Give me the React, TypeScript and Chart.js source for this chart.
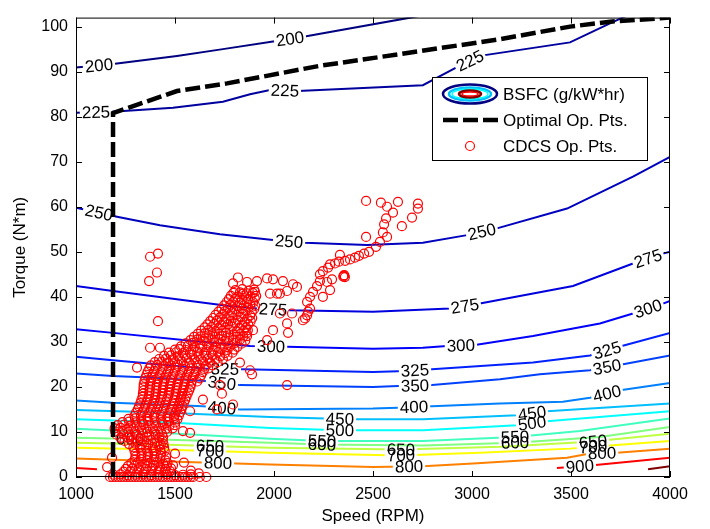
import React, { useEffect, useRef } from 'react';
import { Chart, registerables } from 'chart.js';

Chart.register(...registerables);

const FONT = '"Liberation Sans", Arial, Helvetica, sans-serif';

// ---- axis ticks ----
const speedTicks = [1000, 1500, 2000, 2500, 3000, 3500, 4000];
const torqueTicks = [0, 10, 20, 30, 40, 50, 60, 70, 80, 90, 100];

// ---- BSFC contour lines: [speed (RPM), torque (N*m)] ----
const bsfc200 = [[1000, 90.9], [1187, 91.7], [1510, 93.5], [1742, 95.0], [1995, 96.7], [2156, 97.8], [2700, 102.1], [2760, 102.6]];
const bsfc225 = [[1000, 80.9], [1182, 81.1], [1490, 82.0], [1742, 83.3], [1879, 85.0], [1980, 85.9], [2121, 85.7], [2752, 87.0], [2929, 91.1], [3040, 93.5], [3495, 96.5], [3697, 100.7], [3800, 102.8]];
const bsfc250 = [[1000, 59.8], [1207, 57.8], [1424, 55.9], [1727, 53.9], [1995, 52.6], [2156, 52.0], [2470, 51.5], [2752, 52.0], [2975, 53.7], [3126, 55.2], [3480, 59.6], [3813, 66.7], [4000, 71.1]];
const bsfc275 = [[1000, 42.4], [1187, 41.3], [1763, 38.0], [1914, 37.4], [2081, 37.0], [2500, 36.7], [2889, 37.4], [3040, 38.5], [3510, 42.4], [3813, 47.4], [3965, 49.6], [4000, 50.0]];
const bsfc300 = [[1000, 32.8], [1187, 32.0], [1591, 30.2], [1879, 29.1], [2066, 28.9], [2500, 28.5], [2752, 28.7], [2874, 29.1], [3015, 29.3], [3308, 31.3], [3646, 34.1], [3813, 36.3], [3965, 38.5], [4000, 39.1]];
const bsfc325 = [[1000, 26.7], [1187, 25.9], [1424, 25.0], [1651, 24.1], [1843, 23.9], [2500, 23.3], [2626, 23.5], [2798, 23.9], [3308, 25.4], [3596, 27.0], [3757, 29.1], [4000, 32.0]];
const bsfc350 = [[1000, 23.0], [1187, 22.4], [1424, 22.0], [1651, 21.3], [1828, 20.4], [2500, 20.0], [2626, 20.2], [2798, 20.4], [3141, 21.7], [3343, 22.8], [3596, 23.7], [3757, 25.0], [4000, 27.0]];
const bsfc400 = [[1000, 17.0], [1187, 16.5], [1424, 16.1], [1641, 15.7], [1828, 15.0], [2500, 15.2], [2626, 15.4], [2798, 15.7], [3141, 16.3], [3459, 16.7], [3596, 17.6], [3757, 19.3], [4000, 20.9]];
const bsfc450 = [[1000, 14.9], [1424, 14.3], [1980, 13.3], [2258, 13.0], [2409, 12.8], [2753, 12.8], [3227, 13.7], [3379, 14.6], [4000, 16.3]];
const bsfc500 = [[1000, 12.8], [1424, 12.2], [1980, 10.9], [2333, 10.4], [2753, 10.4], [3227, 11.5], [3379, 12.4], [4000, 14.6]];
const bsfc550 = [[1000, 10.7], [1424, 9.8], [1980, 8.5], [2242, 8.0], [2753, 8.0], [3217, 8.9], [3545, 10.2], [4000, 13.0]];
const bsfc600 = [[1000, 8.7], [1424, 8.3], [1980, 7.6], [2242, 7.2], [2753, 7.0], [3217, 7.6], [3646, 8.9], [4000, 11.1]];
const bsfc650 = [[1000, 7.6], [1424, 7.2], [1980, 6.5], [2641, 6.1], [3146, 6.7], [3596, 7.8], [4000, 9.6]];
const bsfc700 = [[1000, 6.5], [1424, 6.1], [1980, 5.4], [2636, 4.8], [3040, 5.4], [3495, 6.3], [3697, 7.0], [4000, 8.0]];
const bsfc800 = [[1000, 4.1], [1424, 3.5], [1980, 2.8], [2500, 2.2], [2753, 2.4], [3005, 3.0], [3480, 4.3], [3596, 5.2], [3732, 5.4], [4000, 6.3]];
const bsfc900a = [[1000, 2.0], [1106, 1.7]];
const bsfc900b = [[3429, 2.0], [3611, 2.6], [4000, 4.3]];
const bsfc1000 = [[3889, 1.7], [4000, 2.4]];

// ---- contour label positions (speed, RPM) ----
const lab200 = [1116, 2081];
const lab225 = [1101, 2055, 2990];
const lab250 = [1116, 2076, 3050];
const lab275 = [1995, 2964, 3889];
const lab300 = [1985, 2944, 3889];
const lab325 = [1752, 2712, 3682];
const lab350 = [1737, 2712, 3682];
const lab400 = [1737, 2707, 3682];
const lab450 = [2333, 3303];
const lab500 = [2333, 3303];
const lab550 = [2242, 3217];
const lab600 = [1273, 2242, 3217];
const lab650 = [1677, 2641, 3611];
const lab700 = [1677, 2641, 3611];
const lab800 = [1717, 2682, 3657];
const lab900 = [3545];

// ---- optimal operating points ----
const optSpeed = [1187, 1187, 1510, 1763, 2232, 2636, 3141, 3495, 3697, 4000];
const optTorque = [0, 80.8, 85.7, 87.4, 91.3, 93.9, 97.2, 100.0, 101.1, 102.0];

// ---- CDCS operating points [speed, torque] ----
const cdcsPoints = [
  [1805, 41.5], [1840, 41.7], [1872, 41.4], [1900, 41.6],
  [1782, 40.2], [1815, 40.0], [1850, 40.3], [1882, 40.1], [1910, 40.2],
  [1760, 38.8], [1795, 38.9], [1828, 38.7], [1862, 38.9], [1895, 38.8],
  [1735, 37.4], [1768, 37.5], [1802, 37.3], [1838, 37.4], [1870, 37.6], [1900, 37.3],
  [1705, 36.0], [1740, 36.1], [1775, 35.9], [1810, 36.0], [1845, 36.2], [1880, 35.9],
  [1678, 34.6], [1712, 34.7], [1748, 34.5], [1782, 34.6], [1818, 34.8], [1852, 34.5], [1882, 34.6],
  [1650, 33.2], [1685, 33.3], [1720, 33.1], [1755, 33.2], [1790, 33.4], [1825, 33.1], [1860, 33.2],
  [1615, 31.8], [1650, 31.9], [1688, 31.7], [1722, 31.8], [1758, 32.0], [1795, 31.7], [1830, 31.8], [1862, 31.9],
  [1578, 30.4], [1612, 30.5], [1648, 30.3], [1685, 30.4], [1720, 30.6], [1755, 30.3], [1792, 30.4], [1828, 30.5], [1855, 30.3],
  [1530, 29.0], [1565, 29.1], [1600, 28.9], [1638, 29.0], [1672, 29.2], [1708, 28.9], [1745, 29.0], [1780, 29.1], [1815, 28.9],
  [1470, 27.6], [1505, 27.7], [1540, 27.5], [1575, 27.6], [1612, 27.8], [1648, 27.5], [1682, 27.6], [1718, 27.7], [1752, 27.5], [1790, 27.6],
  [1420, 26.2], [1455, 26.3], [1490, 26.1], [1525, 26.2], [1560, 26.4], [1598, 26.1], [1632, 26.2], [1668, 26.3], [1705, 26.1], [1742, 26.2],
  [1378, 24.8], [1410, 24.9], [1445, 24.7], [1480, 24.8], [1515, 25.0], [1550, 24.7], [1585, 24.8], [1620, 24.9], [1655, 24.7], [1690, 24.8],
  [1362, 23.4], [1395, 23.5], [1430, 23.3], [1465, 23.4], [1500, 23.6], [1535, 23.3], [1570, 23.4], [1605, 23.5], [1640, 23.3],
  [1350, 22.0], [1382, 22.1], [1415, 21.9], [1450, 22.0], [1485, 22.2], [1520, 21.9], [1555, 22.0], [1590, 22.1], [1625, 21.9],
  [1342, 20.6], [1375, 20.7], [1408, 20.5], [1442, 20.6], [1478, 20.8], [1512, 20.5], [1548, 20.6], [1582, 20.7],
  [1340, 19.2], [1372, 19.3], [1405, 19.1], [1438, 19.2], [1472, 19.4], [1506, 19.1], [1540, 19.2], [1572, 19.3],
  [1336, 17.8], [1368, 17.9], [1400, 17.7], [1433, 17.8], [1466, 18.0], [1500, 17.7], [1532, 17.8], [1558, 17.9],
  [1325, 16.4], [1356, 16.5], [1390, 16.3], [1422, 16.4], [1455, 16.6], [1490, 16.3], [1522, 16.4], [1545, 16.5],
  [1312, 15.0], [1345, 15.1], [1378, 14.9], [1410, 15.0], [1444, 15.2], [1478, 14.9], [1510, 15.0], [1532, 15.1],
  [1295, 13.6], [1328, 13.7], [1360, 13.5], [1394, 13.6], [1428, 13.8], [1462, 13.5], [1495, 13.6], [1520, 13.7],
  [1235, 12.2], [1268, 12.3], [1300, 12.1], [1333, 12.2], [1366, 12.4], [1400, 12.1], [1434, 12.2], [1468, 12.3], [1500, 12.1],
  [1195, 10.8], [1225, 10.9], [1258, 10.7], [1290, 10.8], [1322, 11.0], [1355, 10.7], [1388, 10.8], [1420, 10.9], [1455, 10.7], [1488, 10.8],
  [1205, 9.4], [1240, 9.5], [1272, 9.3], [1305, 9.4], [1338, 9.6], [1370, 9.3], [1402, 9.4], [1435, 9.5],
  [1245, 8.0], [1280, 8.1], [1312, 7.9], [1345, 8.0], [1378, 8.2], [1410, 7.9], [1438, 8.0],
  [1290, 6.6], [1322, 6.7], [1355, 6.5], [1388, 6.6], [1420, 6.8], [1445, 6.5],
  [1300, 5.2], [1332, 5.3], [1365, 5.1], [1398, 5.2], [1430, 5.4], [1500, 5.2],
  [1296, 3.8], [1328, 3.9], [1360, 3.7], [1392, 3.8], [1425, 4.0], [1452, 3.7],
  [1262, 2.4], [1295, 2.5], [1328, 2.3], [1360, 2.4], [1393, 2.6], [1426, 2.3], [1458, 2.4],
  [1240, 1.2], [1275, 1.3], [1310, 1.1], [1345, 1.2], [1380, 1.4], [1415, 1.1], [1448, 1.2], [1475, 1.3],
  [1172, 0], [1200, 0], [1228, 0], [1256, 0], [1284, 0], [1312, 0], [1340, 0], [1368, 0], [1396, 0], [1424, 0],
  [1452, 0], [1480, 0], [1508, 0], [1536, 0], [1564, 0], [1592, 0], [1625, 0], [1658, 0],
  // in-between records of the dense band
  [1795, 40.9], [1828, 41.0], [1862, 40.8], [1893, 40.9],
  [1772, 39.5], [1805, 39.6], [1838, 39.4], [1870, 39.5], [1903, 39.6],
  [1748, 38.1], [1780, 38.2], [1815, 38.0], [1848, 38.1], [1880, 38.3], [1905, 38.0],
  [1720, 36.7], [1752, 36.8], [1788, 36.6], [1822, 36.7], [1856, 36.9], [1888, 36.6],
  [1692, 35.3], [1726, 35.4], [1760, 35.2], [1795, 35.3], [1832, 35.5], [1866, 35.2], [1890, 35.3],
  [1664, 33.9], [1698, 34.0], [1734, 33.8], [1768, 33.9], [1804, 34.1], [1838, 33.8], [1870, 33.9],
  [1632, 32.5], [1668, 32.6], [1704, 32.4], [1740, 32.5], [1776, 32.7], [1812, 32.4], [1846, 32.5], [1868, 32.6],
  [1596, 31.1], [1630, 31.2], [1668, 31.0], [1702, 31.1], [1738, 31.3], [1774, 31.0], [1810, 31.1], [1845, 31.2],
  [1554, 29.7], [1590, 29.8], [1625, 29.6], [1662, 29.7], [1698, 29.9], [1732, 29.6], [1768, 29.7], [1804, 29.8], [1836, 29.6],
  [1500, 28.3], [1522, 28.4], [1555, 28.2], [1590, 28.3], [1625, 28.5], [1660, 28.2], [1695, 28.3], [1730, 28.4], [1765, 28.2], [1800, 28.3],
  [1445, 26.9], [1480, 27.0], [1515, 26.8], [1550, 26.9], [1585, 27.1], [1620, 26.8], [1655, 26.9], [1690, 27.0], [1728, 26.8], [1765, 26.9],
  [1398, 25.5], [1432, 25.6], [1465, 25.4], [1500, 25.5], [1535, 25.7], [1572, 25.4], [1608, 25.5], [1642, 25.6], [1678, 25.4], [1715, 25.5],
  [1370, 24.1], [1402, 24.2], [1436, 24.0], [1470, 24.1], [1506, 24.3], [1542, 24.0], [1578, 24.1], [1612, 24.2], [1648, 24.0], [1668, 24.1],
  [1356, 22.7], [1388, 22.8], [1422, 22.6], [1456, 22.7], [1492, 22.9], [1526, 22.6], [1562, 22.7], [1598, 22.8], [1632, 22.6],
  [1346, 21.3], [1378, 21.4], [1412, 21.2], [1446, 21.3], [1480, 21.5], [1516, 21.2], [1550, 21.3], [1586, 21.4], [1612, 21.2],
  [1341, 19.9], [1373, 20.0], [1406, 19.8], [1440, 19.9], [1475, 20.1], [1509, 19.8], [1544, 19.9], [1578, 20.0],
  [1338, 18.5], [1370, 18.6], [1402, 18.4], [1436, 18.5], [1469, 18.7], [1503, 18.4], [1536, 18.5], [1565, 18.6],
  [1330, 17.1], [1362, 17.2], [1395, 17.0], [1428, 17.1], [1460, 17.3], [1495, 17.0], [1527, 17.1], [1552, 17.2],
  [1318, 15.7], [1350, 15.8], [1384, 15.6], [1416, 15.7], [1450, 15.9], [1484, 15.6], [1516, 15.7], [1538, 15.8],
  [1303, 14.3], [1336, 14.4], [1369, 14.2], [1402, 14.3], [1436, 14.5], [1470, 14.2], [1502, 14.3], [1526, 14.4],
  [1265, 12.9], [1298, 13.0], [1330, 12.8], [1362, 12.9], [1396, 13.1], [1430, 12.8], [1462, 12.9], [1495, 13.0], [1512, 12.8],
  [1210, 11.5], [1242, 11.6], [1275, 11.4], [1307, 11.5], [1340, 11.7], [1372, 11.4], [1405, 11.5], [1438, 11.6], [1472, 11.4], [1500, 11.5],
  [1198, 10.1], [1232, 10.2], [1265, 10.0], [1298, 10.1], [1330, 10.3], [1362, 10.0], [1395, 10.1], [1428, 10.2], [1460, 10.0],
  [1225, 8.7], [1260, 8.8], [1292, 8.6], [1325, 8.7], [1358, 8.9], [1390, 8.6], [1420, 8.7], [1440, 8.8],
  [1268, 7.3], [1300, 7.4], [1332, 7.2], [1365, 7.3], [1398, 7.5], [1428, 7.2], [1442, 7.3],
  [1295, 5.9], [1328, 6.0], [1360, 5.8], [1392, 5.9], [1425, 6.1], [1448, 5.8],
  [1300, 4.5], [1330, 4.6], [1362, 4.4], [1395, 4.5], [1428, 4.7], [1455, 4.4],
  [1280, 3.1], [1312, 3.2], [1345, 3.0], [1376, 3.1], [1410, 3.3], [1440, 3.0], [1462, 3.1],
  [1252, 1.8], [1285, 1.9], [1318, 1.7], [1352, 1.8], [1386, 2.0], [1420, 1.7], [1452, 1.8], [1480, 1.9],
  [1190, 0.5], [1225, 0.6], [1260, 0.4], [1300, 0.5], [1340, 0.6], [1380, 0.4], [1420, 0.5], [1460, 0.6], [1500, 0.4], [1540, 0.5], [1580, 0.6],
  [1186, 0], [1214, 0], [1242, 0], [1270, 0], [1298, 0], [1326, 0], [1354, 0], [1382, 0], [1410, 0], [1438, 0],
  [1466, 0], [1494, 0], [1522, 0], [1550, 0], [1578, 0],
  // sparse records around the band
  [1490, 2.6], [1545, 3.2], [1580, 1.4], [1620, 0.8], [1157, 2.2], [1182, 4.3],
  [1374, 48.9], [1414, 49.6], [1409, 45.4], [1369, 43.5], [1414, 34.6], [1308, 24.3], [1374, 28.7], [1424, 28.7],
  [2066, 20.4], [1889, 22.8], [1879, 23.7], [1828, 25.4], [1737, 18.5], [1727, 20.4], [1793, 16.1], [1641, 17.2],
  [1712, 15.0], [1576, 14.6], [1540, 10.2], [1576, 9.8],
  [1818, 44.3], [1793, 43.0], [1864, 43.3], [1914, 43.5], [1965, 44.1], [1995, 43.9], [2045, 43.5], [1904, 41.1], [1843, 40.7],
  [1980, 40.7], [2030, 40.7], [2066, 41.3], [2030, 36.3], [2066, 34.1], [1995, 32.6], [1894, 32.6], [1864, 31.3], [1965, 30.4],
  [2096, 42.8], [2116, 42.2], [2015, 40.7],
  // high-load arm
  [2465, 61.3], [2540, 60.9], [2626, 61.1], [2727, 60.7], [2727, 59.6], [2571, 60.0], [2601, 58.7], [2566, 57.4],
  [2556, 56.1], [2646, 55.7], [2697, 57.6], [2550, 54.3], [2571, 53.3], [2465, 53.3], [2535, 52.2], [2515, 51.1],
  [2480, 50.0], [2455, 49.6], [2429, 49.1], [2409, 48.7], [2384, 48.3], [2359, 48.0], [2333, 49.3], [2328, 47.8],
  [2308, 47.4], [2283, 47.2], [2273, 46.5], [2247, 45.7], [2232, 45.0], [2350, 44.5], [2355, 44.8], [2358, 44.4],
  [2352, 44.7], [2293, 43.9], [2268, 43.3], [2232, 43.5], [2217, 42.4], [2197, 41.1], [2283, 41.5], [2247, 40.0],
  [2182, 40.0], [2167, 38.9], [2182, 37.4], [2172, 36.7], [2167, 35.9], [2157, 35.2], [2146, 34.8], [2091, 36.3],
  [2071, 32.0],
];

const contours = [
  { level: 200, pts: bsfc200, labels: lab200 },
  { level: 225, pts: bsfc225, labels: lab225 },
  { level: 250, pts: bsfc250, labels: lab250 },
  { level: 275, pts: bsfc275, labels: lab275 },
  { level: 300, pts: bsfc300, labels: lab300 },
  { level: 325, pts: bsfc325, labels: lab325 },
  { level: 350, pts: bsfc350, labels: lab350 },
  { level: 400, pts: bsfc400, labels: lab400 },
  { level: 450, pts: bsfc450, labels: lab450 },
  { level: 500, pts: bsfc500, labels: lab500 },
  { level: 550, pts: bsfc550, labels: lab550 },
  { level: 600, pts: bsfc600, labels: lab600 },
  { level: 650, pts: bsfc650, labels: lab650 },
  { level: 700, pts: bsfc700, labels: lab700 },
  { level: 800, pts: bsfc800, labels: lab800 },
  { level: 900, pts: bsfc900a, labels: [] as number[] },
  { level: 900, pts: bsfc900b, labels: lab900 },
  { level: 1000, pts: bsfc1000, labels: [] as number[] },
];

const LABEL_FONT = `17px ${FONT}`;

function jet(level: number): string {
  const t = (level - 200) / 800;
  const c = (v: number) => Math.round(255 * Math.max(0, Math.min(1, v)));
  return `rgb(${c(1.5 - Math.abs(4 * t - 3))},${c(1.5 - Math.abs(4 * t - 2))},${c(1.5 - Math.abs(4 * t - 1))})`;
}

function labelPlacements(chart: any, ds: any) {
  const xs = chart.scales.x, ys = chart.scales.y;
  const pts = ds.data.map((p: any) => [xs.getPixelForValue(p.x), ys.getPixelForValue(p.y)]);
  const out: any[] = [];
  for (const lx of ds.contourLabels) {
    const px = xs.getPixelForValue(lx);
    for (let i = 0; i < pts.length - 1; i++) {
      const [x1, y1] = pts[i];
      const [x2, y2] = pts[i + 1];
      if (px >= x1 && px <= x2) {
        const t = (px - x1) / (x2 - x1);
        out.push({ x: px, y: y1 + t * (y2 - y1), a: Math.atan2(y2 - y1, x2 - x1), text: String(ds.level) });
        break;
      }
    }
  }
  return out;
}

const decoPlugin = {
  id: 'deco',
  beforeDatasetDraw(chart: any, args: any) {
    const ds = chart.data.datasets[args.index];
    const ctx = chart.ctx;
    if (ds.isContour) {
      ctx.save();
      ctx.font = LABEL_FONT;
      ctx.beginPath();
      ctx.rect(0, 0, chart.width, chart.height);
      for (const L of labelPlacements(chart, ds)) {
        const hw = ctx.measureText(L.text).width / 2 + 2;
        const hh = 7;
        const cs = Math.cos(L.a), sn = Math.sin(L.a);
        const cr = [[-hw, -hh], [hw, -hh], [hw, hh], [-hw, hh]].map(([u, v]) => [L.x + u * cs - v * sn, L.y + u * sn + v * cs]);
        ctx.moveTo(cr[0][0], cr[0][1]);
        for (let k = 1; k < 4; k++) ctx.lineTo(cr[k][0], cr[k][1]);
        ctx.closePath();
      }
      ctx.clip('evenodd');
    }
    if (ds.id === 'cdcs') {
      ctx.save();
      ctx.font = LABEL_FONT;
      ctx.fillStyle = '#000';
      ctx.textAlign = 'center';
      ctx.textBaseline = 'middle';
      chart.data.datasets.forEach((d: any) => {
        if (!d.isContour) return;
        for (const L of labelPlacements(chart, d)) {
          ctx.save();
          ctx.translate(L.x, L.y);
          ctx.rotate(L.a);
          ctx.fillText(L.text, 0, 1);
          ctx.restore();
        }
      });
      ctx.restore();
    }
  },
  afterDatasetDraw(chart: any, args: any) {
    const ds = chart.data.datasets[args.index];
    if (ds.isContour) chart.ctx.restore();
  },
  afterDraw(chart: any) {
    const ctx = chart.ctx;
    const { left, right, top, bottom } = chart.chartArea;
    const xs = chart.scales.x, ys = chart.scales.y;
    ctx.save();
    ctx.strokeStyle = '#000';
    ctx.lineWidth = 1;
    ctx.strokeRect(left + 0.5, top + 0.5, right - left - 1, bottom - top - 1);
    const TL = 6;
    ctx.beginPath();
    for (const v of speedTicks) {
      const x = Math.round(xs.getPixelForValue(v)) + 0.5;
      ctx.moveTo(x, bottom); ctx.lineTo(x, bottom - TL);
      ctx.moveTo(x, top); ctx.lineTo(x, top + TL);
    }
    for (const v of torqueTicks) {
      const y = Math.round(ys.getPixelForValue(v)) + 0.5;
      ctx.moveTo(left, y); ctx.lineTo(left + TL, y);
      ctx.moveTo(right, y); ctx.lineTo(right - TL, y);
    }
    ctx.stroke();

    // legend
    const lx = 432, ly = 77, lw = 215, lh = 83;
    ctx.fillStyle = '#fff';
    ctx.fillRect(lx, ly, lw, lh);
    ctx.strokeRect(lx + 0.5, ly + 0.5, lw, lh);
    const ell = (cx: number, cy: number, rx: number, ry: number, col: string, w: number) => {
      ctx.beginPath();
      ctx.ellipse(cx, cy, rx, ry, 0, 0, Math.PI * 2);
      ctx.strokeStyle = col;
      ctx.lineWidth = w;
      ctx.stroke();
    };
    const icx = 470, r1 = 94, r2 = 120, r3 = 146;
    ell(icx, r1, 27, 9.5, jet(200), 2.5);
    ell(icx, r1, 21, 6.5, jet(450), 2.5);
    ell(icx, r1, 18, 5, jet(500), 1.5);
    ell(icx, r1, 11, 3.5, jet(1000), 2.5);
    ell(icx, r1, 8, 2, jet(900), 1.5);
    ctx.beginPath();
    ctx.setLineDash([15, 5]);
    ctx.strokeStyle = '#000';
    ctx.lineWidth = 4.5;
    ctx.moveTo(443, r2); ctx.lineTo(498, r2);
    ctx.stroke();
    ctx.setLineDash([]);
    ctx.beginPath();
    ctx.arc(icx, r3, 4.5, 0, Math.PI * 2);
    ctx.strokeStyle = '#ff0000';
    ctx.lineWidth = 1.2;
    ctx.stroke();
    ctx.fillStyle = '#000';
    ctx.font = `17px ${FONT}`;
    ctx.textAlign = 'left';
    ctx.textBaseline = 'middle';
    ctx.fillText('BSFC (g/kW*hr)', 503, r1 + 1);
    ctx.fillText('Optimal Op. Pts.', 503, r2 + 1);
    ctx.fillText('CDCS Op. Pts.', 503, r3 + 1);
    ctx.restore();
  },
};

export default function App() {
  const ref = useRef<HTMLCanvasElement>(null);
  useEffect(() => {
    const canvas = ref.current as HTMLCanvasElement;
    const contourSets = contours.map((c, i) => ({
      type: 'line',
      label: 'BSFC ' + c.level,
      data: c.pts.map(([x, y]) => ({ x, y })),
      borderColor: jet(c.level),
      borderWidth: 2,
      pointRadius: 0,
      tension: 0,
      fill: false,
      clip: 0,
      order: 10 + i,
      isContour: true,
      level: c.level,
      contourLabels: c.labels,
    }));
    const chart = new Chart(canvas, {
      type: 'line',
      data: {
        datasets: [
          ...contourSets,
          {
            id: 'cdcs',
            type: 'scatter',
            label: 'CDCS Op. Pts.',
            data: cdcsPoints.map(([x, y]) => ({ x, y })),
            pointStyle: 'circle',
            pointRadius: 4.5,
            pointBorderWidth: 1.2,
            borderColor: '#ff0000',
            backgroundColor: 'rgba(0,0,0,0)',
            pointBackgroundColor: 'rgba(0,0,0,0)',
            pointBorderColor: '#ff0000',
            showLine: false,
            clip: false,
            order: 2,
          },
          {
            type: 'line',
            label: 'Optimal Op. Pts.',
            data: optSpeed.map((x, i) => ({ x, y: optTorque[i] })),
            borderColor: '#000',
            borderWidth: 4.5,
            borderDash: [15, 5],
            pointRadius: 0,
            tension: 0,
            fill: false,
            clip: 0,
            order: 1,
          },
        ] as any,
      },
      options: {
        animation: false,
        responsive: false,
        devicePixelRatio: 1,
        events: [],
        layout: { padding: { left: 0, right: 40, top: 8, bottom: 0 } },
        plugins: { legend: { display: false }, tooltip: { enabled: false } },
        scales: {
          x: {
            type: 'linear',
            min: 1000,
            max: 4000,
            grid: { display: false, drawTicks: false },
            border: { display: false },
            afterBuildTicks: (s: any) => { s.ticks = speedTicks.map((v) => ({ value: v })); },
            afterFit: (s: any) => { s.height = 52; },
            ticks: { color: '#000', font: { family: FONT, size: 16 }, padding: 8, maxRotation: 0, autoSkip: false, callback: (v: any) => String(v) },
            title: { display: true, text: 'Speed (RPM)', color: '#000', font: { family: FONT, size: 17 }, padding: { top: 0, bottom: 2 } },
          },
          y: {
            type: 'linear',
            min: 0,
            max: 102,
            grid: { display: false, drawTicks: false },
            border: { display: false },
            afterBuildTicks: (s: any) => { s.ticks = torqueTicks.map((v) => ({ value: v })); },
            afterFit: (s: any) => { s.width = 76; },
            ticks: { color: '#000', font: { family: FONT, size: 16 }, padding: 8, autoSkip: false, callback: (v: any) => String(v) },
            title: { display: true, text: 'Torque (N*m)', color: '#000', font: { family: FONT, size: 17 }, padding: { top: 10, bottom: 0 } },
          },
        },
      } as any,
      plugins: [decoPlugin as any],
    });
    return () => chart.destroy();
  }, []);
  return (
    <div style={{ position: 'absolute', left: 0, top: 0, width: 710, height: 529, background: '#fff' }}>
      <canvas ref={ref} width={710} height={529} style={{ width: 710, height: 529, display: 'block' }} />
    </div>
  );
}
